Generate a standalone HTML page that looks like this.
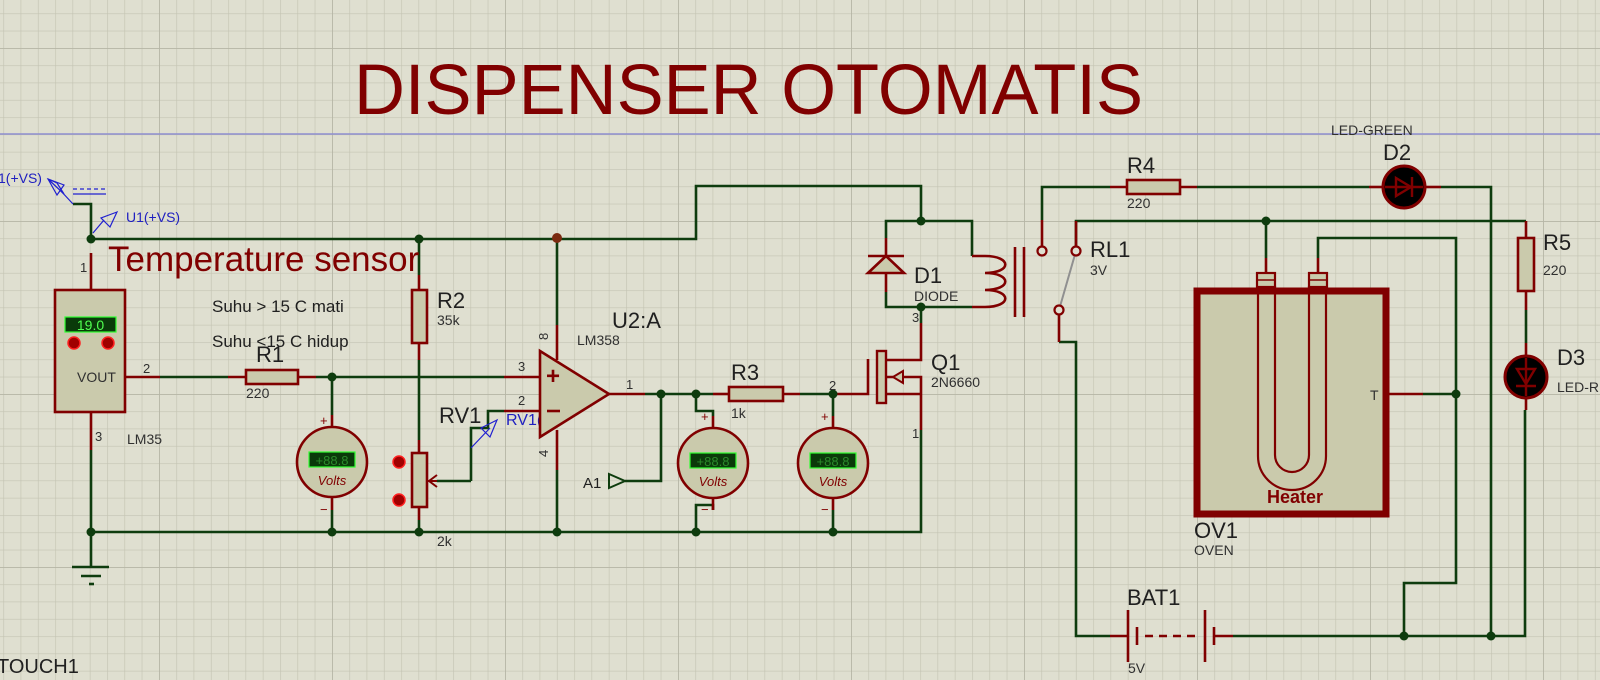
<!DOCTYPE html>
<html><head><meta charset="utf-8"><style>
html,body{margin:0;padding:0;background:#dfdfd0;}
svg{display:block;}
text{font-family:"Liberation Sans",sans-serif;}
</style></head><body>
<svg width="1600" height="680" viewBox="0 0 1600 680" xmlns="http://www.w3.org/2000/svg">
<defs>
<pattern id="g1" x="3.3" y="13.4" width="17.3" height="17.3" patternUnits="userSpaceOnUse">
<path d="M0,0V17.3M0,0H17.3" stroke="#c4c4b3" stroke-width="1.3" fill="none"/>
</pattern>
<pattern id="g2" x="159" y="48" width="173" height="173" patternUnits="userSpaceOnUse">
<path d="M0,0V173M0,0H173" stroke="#b6b6a6" stroke-width="1.8" fill="none"/>
</pattern>
</defs>
<rect width="1600" height="680" fill="#dfdfd0"/>
<rect width="1600" height="680" fill="url(#g1)"/>
<rect width="1600" height="680" fill="url(#g2)"/>
<line x1="0" y1="134" x2="1600" y2="134" stroke="#8e8ed0" stroke-width="1.5"/>

<text x="354" y="114" font-size="71" fill="#800000" textLength="789" lengthAdjust="spacingAndGlyphs">DISPENSER OTOMATIS</text>

<!-- green wires -->
<g fill="none" stroke="#0e3c0e" stroke-width="2.6">
<polyline points="73,204 91,204 91,239"/>
<polyline points="91,239 557,239 696,239 696,186 921,186 921,221"/>
<polyline points="886,238 886,221 972,221 972,256"/>
<polyline points="886,292 886,307 972,307"/>
<polyline points="921,307 921,323"/>
<polyline points="557,239 557,325"/>
<polyline points="419,239 419,275"/>
<polyline points="419,360 419,440"/>
<polyline points="160,377 228,377"/>
<polyline points="316,377 504,377"/>
<polyline points="471,481 471,428 488,428 488,411 504,411"/>
<polyline points="437,481 471,481"/>
<polyline points="91,532 921,532 921,430"/>
<polyline points="91,532 91,567"/>
<polyline points="91,450 91,532"/>
<polyline points="419,520 419,532"/>
<polyline points="557,470 557,532"/>
<polyline points="332,377 332,415"/>
<polyline points="332,510 332,532"/>
<polyline points="645,394 713,394"/>
<polyline points="661,394 661,481 625,481"/>
<polyline points="696,394 696,411 713,411 713,416"/>
<polyline points="713,510 713,505 696,505 696,532"/>
<polyline points="800,394 833,394 833,416"/>
<polyline points="833,510 833,532"/>
<polyline points="1042,220 1042,187 1110,187"/>
<polyline points="1197,187 1369,187"/>
<polyline points="1441,187 1491,187 1491,636"/>
<polyline points="1076,247 1076,221 1526,221 1526,221"/>
<polyline points="1266,221 1266,258"/>
<polyline points="1318,258 1318,238 1456,238 1456,583 1404,583 1404,636"/>
<polyline points="1423,394 1456,394"/>
<polyline points="1059,342 1076,342 1076,636 1110,636"/>
<polyline points="1233,636 1525,636 1525,410"/>
<polyline points="1526,310 1526,343"/>
</g>
<!-- red leads -->
<g fill="none" stroke="#800000" stroke-width="2.6">
<polyline points="91,253 91,290"/>
<polyline points="125,377 160,377"/>
<polyline points="228,377 246,377"/>
<polyline points="298,377 316,377"/>
<polyline points="504,377 540,377"/>
<polyline points="504,411 540,411"/>
<polyline points="557,325 557,360"/>
<polyline points="557,430 557,470"/>
<polyline points="419,275 419,290"/>
<polyline points="419,343 419,360"/>
<polyline points="419,440 419,453"/>
<polyline points="419,507 419,520"/>
<polyline points="91,412 91,450"/>
<polyline points="609,394 645,394"/>
<polyline points="713,394 729,394"/>
<polyline points="783,394 800,394"/>
<polyline points="833,394 868,394 868,359"/>
<polyline points="921,323 921,360 886,360"/>
<polyline points="921,430 921,377 886,377"/>
<polyline points="886,394 921,394"/>
<polyline points="886,238 886,292"/>
<polyline points="868,256 904,256"/>
<polyline points="332,415 332,427"/>
<polyline points="332,497 332,510"/>
<polyline points="713,416 713,428"/>
<polyline points="713,498 713,510"/>
<polyline points="833,416 833,428"/>
<polyline points="833,498 833,510"/>
<polyline points="1042,220 1042,247"/>
<polyline points="1076,221 1076,247"/>
<polyline points="1110,187 1127,187"/>
<polyline points="1180,187 1197,187"/>
<polyline points="1369,187 1383,187"/>
<polyline points="1425,187 1441,187"/>
<polyline points="1266,258 1266,273"/>
<polyline points="1318,258 1318,273"/>
<polyline points="1389,394 1423,394"/>
<polyline points="1059,314 1059,342"/>
<polyline points="1110,636 1128,636"/>
<polyline points="1214,636 1233,636"/>
<polyline points="1526,221 1526,238"/>
<polyline points="1526,291 1526,310"/>
<polyline points="1526,343 1526,356"/>
<polyline points="1526,398 1526,410"/>
<path d="M972,256 L985,256 C1012,256 1012,273 985,273 C1012,273 1012,290 985,290 C1012,290 1012,307 985,307 L972,307"/>
<line x1="1015" y1="247" x2="1015" y2="317"/>
<line x1="1024" y1="247" x2="1024" y2="317"/>
</g>

<!-- ground -->
<g stroke="#0e3c0e" stroke-width="2.6">
<line x1="72" y1="567" x2="109" y2="567"/>
<line x1="81" y1="576" x2="101" y2="576"/>
<line x1="89" y1="584" x2="94" y2="584"/>
</g>

<!-- junctions -->
<g fill="#0e3c0e">
<circle cx="91" cy="239" r="4.5"/><circle cx="419" cy="239" r="4.5"/>
<circle cx="332" cy="377" r="4.5"/>
<circle cx="91" cy="532" r="4.5"/><circle cx="332" cy="532" r="4.5"/><circle cx="419" cy="532" r="4.5"/>
<circle cx="557" cy="532" r="4.5"/><circle cx="696" cy="532" r="4.5"/><circle cx="833" cy="532" r="4.5"/>
<circle cx="661" cy="394" r="4.5"/><circle cx="696" cy="394" r="4.5"/><circle cx="833" cy="394" r="4.5"/>
<circle cx="921" cy="221" r="4.5"/><circle cx="921" cy="307" r="4.5"/>
<circle cx="1266" cy="221" r="4.5"/><circle cx="1456" cy="394" r="4.5"/>
<circle cx="1404" cy="636" r="4.5"/><circle cx="1491" cy="636" r="4.5"/>
</g>
<circle cx="557" cy="238" r="5" fill="#7a2a10"/>

<!-- VS terminals -->
<g stroke="#2020d0" stroke-width="1.2" fill="none">
<polygon points="48,179 64,194 57,183"/>
<polygon points="48,179 57,195 64,185"/>
<line x1="60" y1="190" x2="73" y2="204"/>
<line x1="73" y1="189" x2="106" y2="189" stroke-dasharray="4,3"/>
<line x1="73" y1="194" x2="106" y2="194"/>
<line x1="93" y1="233" x2="104" y2="220"/>
<polygon points="117,212 101,218 110,227"/>
<line x1="471" y1="448" x2="490" y2="428"/>
<polygon points="497,420 481,428 490,437"/>
</g>
<text x="-2" y="183" font-size="14" fill="#2020c0">1(+VS)</text>
<text x="126" y="222" font-size="14" fill="#2020c0">U1(+VS)</text>
<text x="506" y="425" font-size="16" fill="#2020c0">RV1(</text>

<!-- LM35 -->
<rect x="55" y="290" width="70" height="122" fill="#cacaac" stroke="#800000" stroke-width="2.6"/>
<rect x="65" y="317" width="51" height="15" fill="#0a3a0a" stroke="#30ff30" stroke-width="1.2"/>
<text x="90.5" y="330" font-size="14" fill="#50ff50" text-anchor="middle">19.0</text>
<circle cx="74" cy="343" r="6" fill="#a00000" stroke="#ff2020" stroke-width="1.5"/>
<circle cx="108" cy="343" r="6" fill="#a00000" stroke="#ff2020" stroke-width="1.5"/>
<text x="77" y="382" font-size="14" fill="#303030">VOUT</text>
<text x="80" y="272" font-size="13" fill="#303030">1</text>
<text x="143" y="373" font-size="13" fill="#303030">2</text>
<text x="95" y="441" font-size="13" fill="#303030">3</text>
<text x="127" y="444" font-size="14" fill="#303030">LM35</text>

<text x="108" y="271" font-size="35" fill="#800000">Temperature sensor</text>
<text x="212" y="312" font-size="17" fill="#202020">Suhu &gt; 15 C mati</text>
<text x="212" y="347" font-size="17" fill="#202020">Suhu &lt;15 C hidup</text>

<!-- resistors -->
<g fill="#cacaac" stroke="#800000" stroke-width="2.6">
<rect x="246" y="370" width="52" height="14"/>
<rect x="412" y="290" width="15" height="53"/>
<rect x="412" y="453" width="15" height="54"/>
<rect x="729" y="387" width="54" height="14"/>
<rect x="1127" y="180" width="53" height="14"/>
<rect x="1518" y="238" width="16" height="53"/>
</g>
<path d="M427,481 L437,481 M437,475 L429,481 L437,487" stroke="#800000" stroke-width="2" fill="none"/>
<circle cx="399" cy="462" r="6" fill="#a00000" stroke="#ff2020" stroke-width="1.5"/>
<circle cx="399" cy="500" r="6" fill="#a00000" stroke="#ff2020" stroke-width="1.5"/>
<g fill="#202020">
<text x="256" y="362" font-size="22">R1</text>
<text x="246" y="398" font-size="14" fill="#303030">220</text>
<text x="437" y="308" font-size="22">R2</text>
<text x="437" y="325" font-size="14" fill="#303030">35k</text>
<text x="439" y="423" font-size="22">RV1</text>
<text x="437" y="546" font-size="14" fill="#303030">2k</text>
<text x="731" y="380" font-size="22">R3</text>
<text x="731" y="418" font-size="14" fill="#303030">1k</text>
<text x="1127" y="173" font-size="22">R4</text>
<text x="1127" y="208" font-size="14" fill="#303030">220</text>
<text x="1543" y="250" font-size="22">R5</text>
<text x="1543" y="275" font-size="14" fill="#303030">220</text>
</g>

<!-- op amp -->
<polygon points="540,351 609,394 540,437" fill="#cacaac" stroke="#800000" stroke-width="2.6"/>
<text x="553" y="384" font-size="24" fill="#800000" text-anchor="middle" font-weight="bold">+</text>
<line x1="547" y1="411" x2="560" y2="411" stroke="#800000" stroke-width="2.6"/>
<text x="518" y="371" font-size="13" fill="#303030">3</text>
<text x="518" y="405" font-size="13" fill="#303030">2</text>
<text x="626" y="389" font-size="13" fill="#303030">1</text>
<text transform="translate(548,340) rotate(-90)" font-size="13" fill="#303030">8</text>
<text transform="translate(548,457) rotate(-90)" font-size="13" fill="#303030">4</text>
<text x="612" y="328" font-size="22" fill="#202020">U2:A</text>
<text x="577" y="345" font-size="14" fill="#303030">LM358</text>
<polygon points="609,474 625,481 609,488" fill="none" stroke="#0e3c0e" stroke-width="2"/>
<text x="583" y="488" font-size="15" fill="#202020">A1</text>

<!-- voltmeters -->
<g>
<circle cx="332" cy="462" r="35" fill="#cacaac" stroke="#800000" stroke-width="2.6"/>
<rect x="309" y="452" width="46" height="15" fill="#0a3a0a" stroke="#30ff30" stroke-width="1.2"/>
<text x="332" y="465" font-size="13" fill="#2a8a2a" text-anchor="middle">+88.8</text>
<text x="332" y="485" font-size="13" fill="#800000" font-style="italic" text-anchor="middle">Volts</text>
<text x="320" y="425" font-size="13" fill="#800000">+</text>
<text x="320" y="514" font-size="13" fill="#800000">−</text>
</g>
<g>
<circle cx="713" cy="463" r="35" fill="#cacaac" stroke="#800000" stroke-width="2.6"/>
<rect x="690" y="453" width="46" height="15" fill="#0a3a0a" stroke="#30ff30" stroke-width="1.2"/>
<text x="713" y="466" font-size="13" fill="#2a8a2a" text-anchor="middle">+88.8</text>
<text x="713" y="486" font-size="13" fill="#800000" font-style="italic" text-anchor="middle">Volts</text>
<text x="701" y="421" font-size="13" fill="#800000">+</text>
<text x="701" y="514" font-size="13" fill="#800000">−</text>
</g>
<g>
<circle cx="833" cy="463" r="35" fill="#cacaac" stroke="#800000" stroke-width="2.6"/>
<rect x="810" y="453" width="46" height="15" fill="#0a3a0a" stroke="#30ff30" stroke-width="1.2"/>
<text x="833" y="466" font-size="13" fill="#2a8a2a" text-anchor="middle">+88.8</text>
<text x="833" y="486" font-size="13" fill="#800000" font-style="italic" text-anchor="middle">Volts</text>
<text x="821" y="421" font-size="13" fill="#800000">+</text>
<text x="821" y="514" font-size="13" fill="#800000">−</text>
</g>

<!-- diode D1 -->
<polygon points="886,256 868,273 904,273" fill="#cacaac" stroke="#800000" stroke-width="2.6"/>
<text x="914" y="283" font-size="22" fill="#202020">D1</text>
<text x="914" y="301" font-size="14" fill="#303030">DIODE</text>
<text x="912" y="322" font-size="13" fill="#303030">3</text>

<!-- MOSFET -->
<rect x="877" y="351" width="9" height="52" fill="#cacaac" stroke="#800000" stroke-width="2.4"/>
<polygon points="893,377 903,371 903,383" fill="#cacaac" stroke="#800000" stroke-width="2"/>
<text x="931" y="370" font-size="22" fill="#202020">Q1</text>
<text x="931" y="387" font-size="14" fill="#303030">2N6660</text>
<text x="829" y="390" font-size="13" fill="#303030">2</text>
<text x="912" y="438" font-size="13" fill="#303030">1</text>

<!-- relay contacts -->
<line x1="1076" y1="251" x2="1059" y2="310" stroke="#909090" stroke-width="2"/>
<circle cx="1042" cy="251" r="4.5" fill="#dfdfd0" stroke="#800000" stroke-width="2.2"/>
<circle cx="1076" cy="251" r="4.5" fill="#dfdfd0" stroke="#800000" stroke-width="2.2"/>
<circle cx="1059" cy="310" r="4.5" fill="#dfdfd0" stroke="#800000" stroke-width="2.2"/>
<text x="1090" y="257" font-size="22" fill="#202020">RL1</text>
<text x="1090" y="275" font-size="14" fill="#303030">3V</text>

<!-- LEDs -->
<text x="1331" y="135" font-size="14" fill="#303030">LED-GREEN</text>
<text x="1383" y="160" font-size="22" fill="#202020">D2</text>
<circle cx="1404" cy="187" r="21" fill="#000" stroke="#800000" stroke-width="3"/>
<g stroke="#800000" stroke-width="2.4" fill="none">
<line x1="1385" y1="187" x2="1423" y2="187"/>
<polygon points="1396,178 1411,187 1396,196"/>
<line x1="1412" y1="177" x2="1412" y2="197"/>
</g>
<circle cx="1526" cy="377" r="21" fill="#000" stroke="#800000" stroke-width="3"/>
<g stroke="#800000" stroke-width="2.4" fill="none">
<line x1="1526" y1="358" x2="1526" y2="396"/>
<polygon points="1517,369 1535,369 1526,384"/>
<line x1="1516" y1="386" x2="1536" y2="386"/>
</g>
<text x="1557" y="365" font-size="22" fill="#202020">D3</text>
<text x="1557" y="392" font-size="14" fill="#303030">LED-R</text>

<!-- oven -->
<rect x="1197" y="291" width="189" height="223" fill="#cacaac" stroke="#800000" stroke-width="7"/>
<path d="M1258,286 V456 A34,34 0 0 0 1326,456 V286 M1275,286 V455 A17,17 0 0 0 1309,455 V286" fill="none" stroke="#800000" stroke-width="2.2"/>
<g fill="#cacaac" stroke="#800000" stroke-width="2.2">
<rect x="1257" y="273" width="18" height="14"/><rect x="1309" y="273" width="18" height="14"/>
</g>
<line x1="1257" y1="280" x2="1275" y2="280" stroke="#800000" stroke-width="1.5"/>
<line x1="1309" y1="280" x2="1327" y2="280" stroke="#800000" stroke-width="1.5"/>
<text x="1267" y="503" font-size="18" font-weight="bold" fill="#800000">Heater</text>
<text x="1370" y="400" font-size="14" fill="#303030">T</text>
<text x="1194" y="538" font-size="22" fill="#202020">OV1</text>
<text x="1194" y="555" font-size="14" fill="#303030">OVEN</text>

<!-- battery -->
<g stroke="#800000" stroke-width="2.6">
<line x1="1128" y1="610" x2="1128" y2="662"/>
<line x1="1137" y1="627" x2="1137" y2="645"/>
<line x1="1145" y1="636" x2="1200" y2="636" stroke-dasharray="8,6"/>
<line x1="1205" y1="610" x2="1205" y2="662"/>
<line x1="1214" y1="627" x2="1214" y2="645"/>
</g>
<text x="1127" y="605" font-size="22" fill="#202020">BAT1</text>
<text x="1128" y="673" font-size="14" fill="#303030">5V</text>

<text x="-3" y="673" font-size="20" fill="#202020">TOUCH1</text>
</svg>
</body></html>
